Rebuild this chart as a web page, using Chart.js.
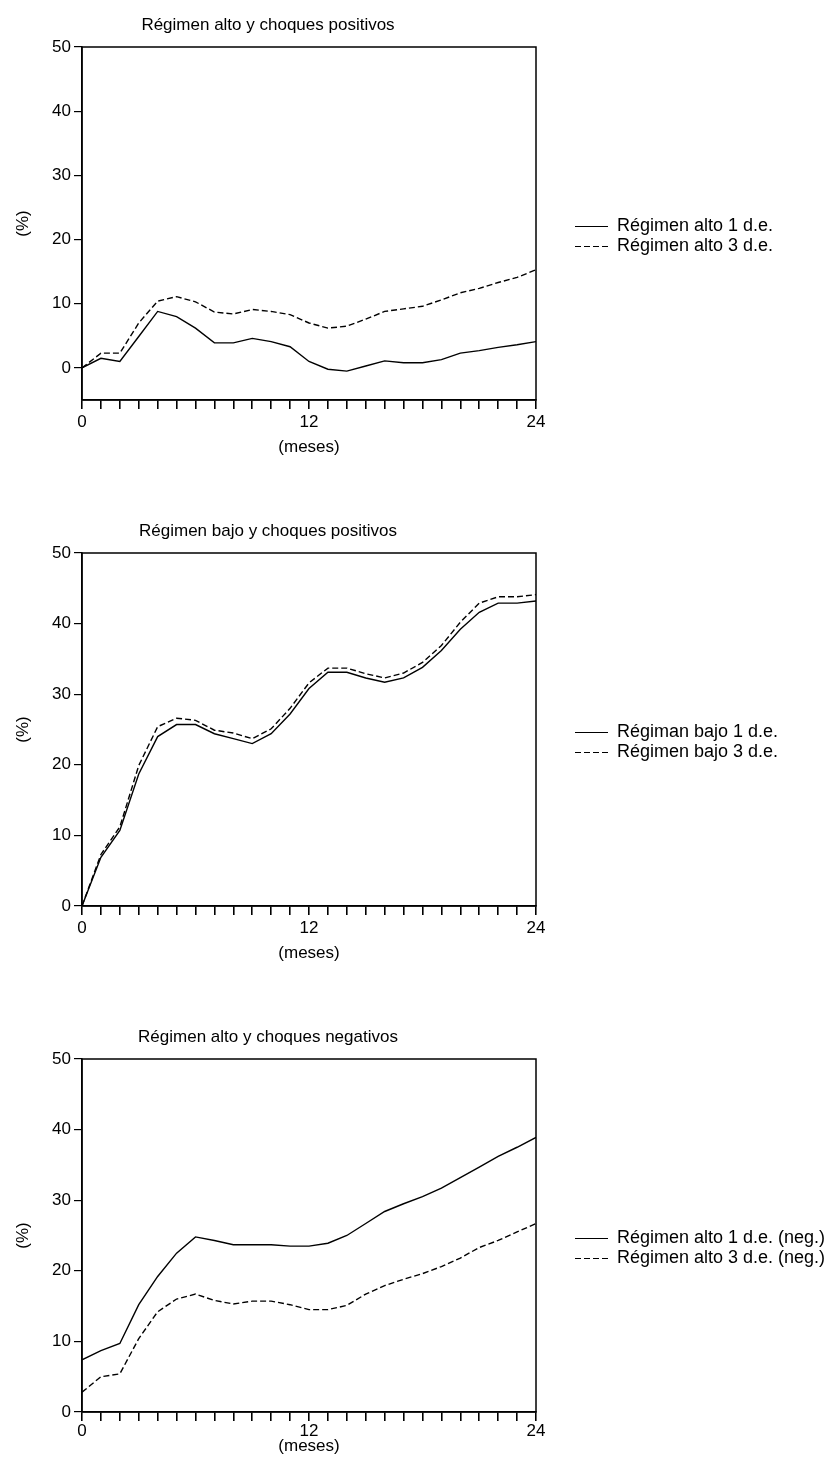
<!DOCTYPE html>
<html lang="es">
<head>
  <meta charset="UTF-8">
  <title>Respuesta acumulada por régimen</title>
  <script src="https://cdn.jsdelivr.net/npm/chart.js"></script>
  <style>
    html, body { margin: 0; padding: 0; background: #fff; overflow: hidden; }
    canvas { position: absolute; left: 0; }
  </style>
</head>
<body>
  <canvas id="panel1" width="838" height="470" style="top:0px"></canvas>
  <canvas id="panel2" width="838" height="470" style="top:506px"></canvas>
  <canvas id="panel3" width="838" height="446" style="top:1012px"></canvas>
  <script>
// horizon in months
const months = [0, 1, 2, 3, 4, 5, 6, 7, 8, 9, 10, 11, 12, 13, 14, 15, 16, 17, 18, 19, 20, 21, 22, 23, 24];
const monthLabels = [0, 12, 24];
const yTicks = [0, 10, 20, 30, 40, 50];

// régimen alto, choques positivos
const altoPos1 = [0, 1.5, 1.0, 4.9, 8.8, 8.0, 6.2, 3.9, 3.9, 4.6, 4.1, 3.3, 1.0, -0.2, -0.5, 0.3, 1.1, 0.8, 0.8, 1.3, 2.3, 2.7, 3.2, 3.6, 4.1];
const altoPos3 = [0, 2.3, 2.3, 7.0, 10.4, 11.1, 10.3, 8.7, 8.4, 9.1, 8.8, 8.3, 7.0, 6.2, 6.5, 7.6, 8.8, 9.2, 9.6, 10.6, 11.7, 12.4, 13.3, 14.1, 15.3];

// régimen bajo, choques positivos
const bajoPos1 = [0, 6.9, 10.7, 18.7, 24.0, 25.7, 25.7, 24.4, 23.7, 23.0, 24.4, 27.2, 30.8, 33.1, 33.1, 32.3, 31.7, 32.3, 33.8, 36.2, 39.2, 41.6, 42.9, 42.9, 43.2];
const bajoPos3 = [0, 7.3, 11.2, 19.9, 25.4, 26.6, 26.3, 24.9, 24.5, 23.7, 25.1, 28.0, 31.6, 33.7, 33.7, 32.9, 32.3, 33.0, 34.5, 36.9, 40.2, 42.9, 43.8, 43.8, 44.1];

// régimen alto, choques negativos
const altoNeg1 = [7.4, 8.7, 9.7, 15.2, 19.2, 22.5, 24.8, 24.3, 23.7, 23.7, 23.7, 23.5, 23.5, 23.9, 25.0, 26.7, 28.4, 29.5, 30.5, 31.7, 33.2, 34.7, 36.2, 37.5, 38.9];
const altoNeg3 = [2.8, 5.0, 5.4, 10.4, 14.2, 16.0, 16.7, 15.8, 15.3, 15.7, 15.7, 15.2, 14.5, 14.5, 15.1, 16.7, 17.9, 18.8, 19.6, 20.6, 21.8, 23.3, 24.3, 25.5, 26.7];

Chart.defaults.font.family = "'Liberation Sans', Arial, sans-serif";
Chart.defaults.font.size = 17;
Chart.defaults.color = '#000';

// closes the plot box on top and right
const frame = {
  id: 'frame',
  afterDraw(chart) {
    const { ctx, chartArea: a } = chart;
    ctx.save();
    ctx.strokeStyle = '#000';
    ctx.lineWidth = 1.5;
    ctx.strokeRect(Math.round(a.left), Math.round(a.top),
                   Math.round(a.right - a.left), Math.round(a.bottom - a.top));
    ctx.restore();
  }
};

// legend to the right of the box: short line sample + label
const sideLegend = {
  id: 'sideLegend',
  afterDraw(chart, args, opts) {
    const { ctx, chartArea: a } = chart;
    const sets = chart.data.datasets;
    const mid = (a.top + a.bottom) / 2 + opts.shift;
    ctx.save();
    ctx.font = opts.fontSize + "px 'Liberation Sans', Arial, sans-serif";
    ctx.fillStyle = '#000';
    ctx.textBaseline = 'middle';
    sets.forEach((ds, i) => {
      const y = Math.round(mid + (i - (sets.length - 1) / 2) * opts.row);
      ctx.beginPath();
      ctx.setLineDash(ds.borderDash || []);
      ctx.lineWidth = 1.2;
      ctx.strokeStyle = '#000';
      ctx.moveTo(opts.x, y + 0.5);
      ctx.lineTo(opts.x + opts.len, y + 0.5);
      ctx.stroke();
      ctx.setLineDash([]);
      ctx.fillText(ds.label, opts.x + opts.len + opts.gap, y);
    });
    ctx.restore();
  }
};

function series(values, label, dashed) {
  return {
    label: label,
    data: months.map((m, i) => ({ x: m, y: values[i] })),
    borderColor: '#000',
    borderWidth: 1.4,
    borderDash: dashed ? [6, 3] : [],
    pointRadius: 0,
    tension: 0,
    fill: false
  };
}

function makePanel(id, title, sets, opt) {
  return new Chart(document.getElementById(id), {
    type: 'line',
    data: { datasets: sets },
    options: {
      responsive: false,
      animation: false,
      layout: { padding: { top: 0, left: 0, right: 302, bottom: opt.padBottom } },
      plugins: {
        legend: { display: false },
        tooltip: { enabled: false },
        title: { display: true, text: title, font: { size: 17, weight: 'normal' },
                 padding: { top: 15, bottom: 11.6 } },
        sideLegend: { x: 575, len: 33, gap: 9, row: 20, shift: 12, fontSize: 18 }
      },
      scales: {
        x: {
          type: 'linear', min: 0, max: 24,
          afterBuildTicks: s => { s.ticks = months.map(v => ({ value: v })); },
          afterFit: s => { s.height = opt.xHeight; },
          ticks: { autoSkip: false, maxRotation: 0, padding: opt.tickPad,
                   callback: v => monthLabels.includes(v) ? String(v) : '' },
          grid: { drawOnChartArea: false, drawTicks: true, tickLength: 9, color: '#000', lineWidth: 1.6 },
          border: { display: true, color: '#000', width: 1.5 },
          title: { display: true, text: '(meses)', font: { size: 17 }, padding: { top: 0, bottom: 0 } }
        },
        y: {
          min: opt.yMin, max: 50,
          afterBuildTicks: s => { s.ticks = yTicks.map(v => ({ value: v })); },
          afterFit: s => { s.width = 82; },
          ticks: { padding: 3 },
          grid: { drawOnChartArea: false, drawTicks: true, tickLength: 8, color: '#000', lineWidth: 1.2 },
          border: { display: true, color: '#000', width: 1.5 },
          title: { display: true, text: '(%)', font: { size: 17 }, padding: { top: 13, bottom: 0 } }
        }
      }
    },
    plugins: [frame, sideLegend]
  });
}

makePanel('panel1', 'Régimen alto y choques positivos', [
  series(altoPos1, 'Régimen alto 1 d.e.', false),
  series(altoPos3, 'Régimen alto 3 d.e.', true)
], { yMin: -5, xHeight: 58, tickPad: 3, padBottom: 12 });

makePanel('panel2', 'Régimen bajo y choques positivos', [
  series(bajoPos1, 'Régiman bajo 1 d.e.', false),
  series(bajoPos3, 'Régimen bajo 3 d.e.', true)
], { yMin: 0, xHeight: 58, tickPad: 3, padBottom: 12 });

makePanel('panel3', 'Régimen alto y choques negativos', [
  series(altoNeg1, 'Régimen alto 1 d.e. (neg.)', false),
  series(altoNeg3, 'Régimen alto 3 d.e. (neg.)', true)
], { yMin: 0, xHeight: 45, tickPad: 0, padBottom: 1 });
  </script>
</body>
</html>
